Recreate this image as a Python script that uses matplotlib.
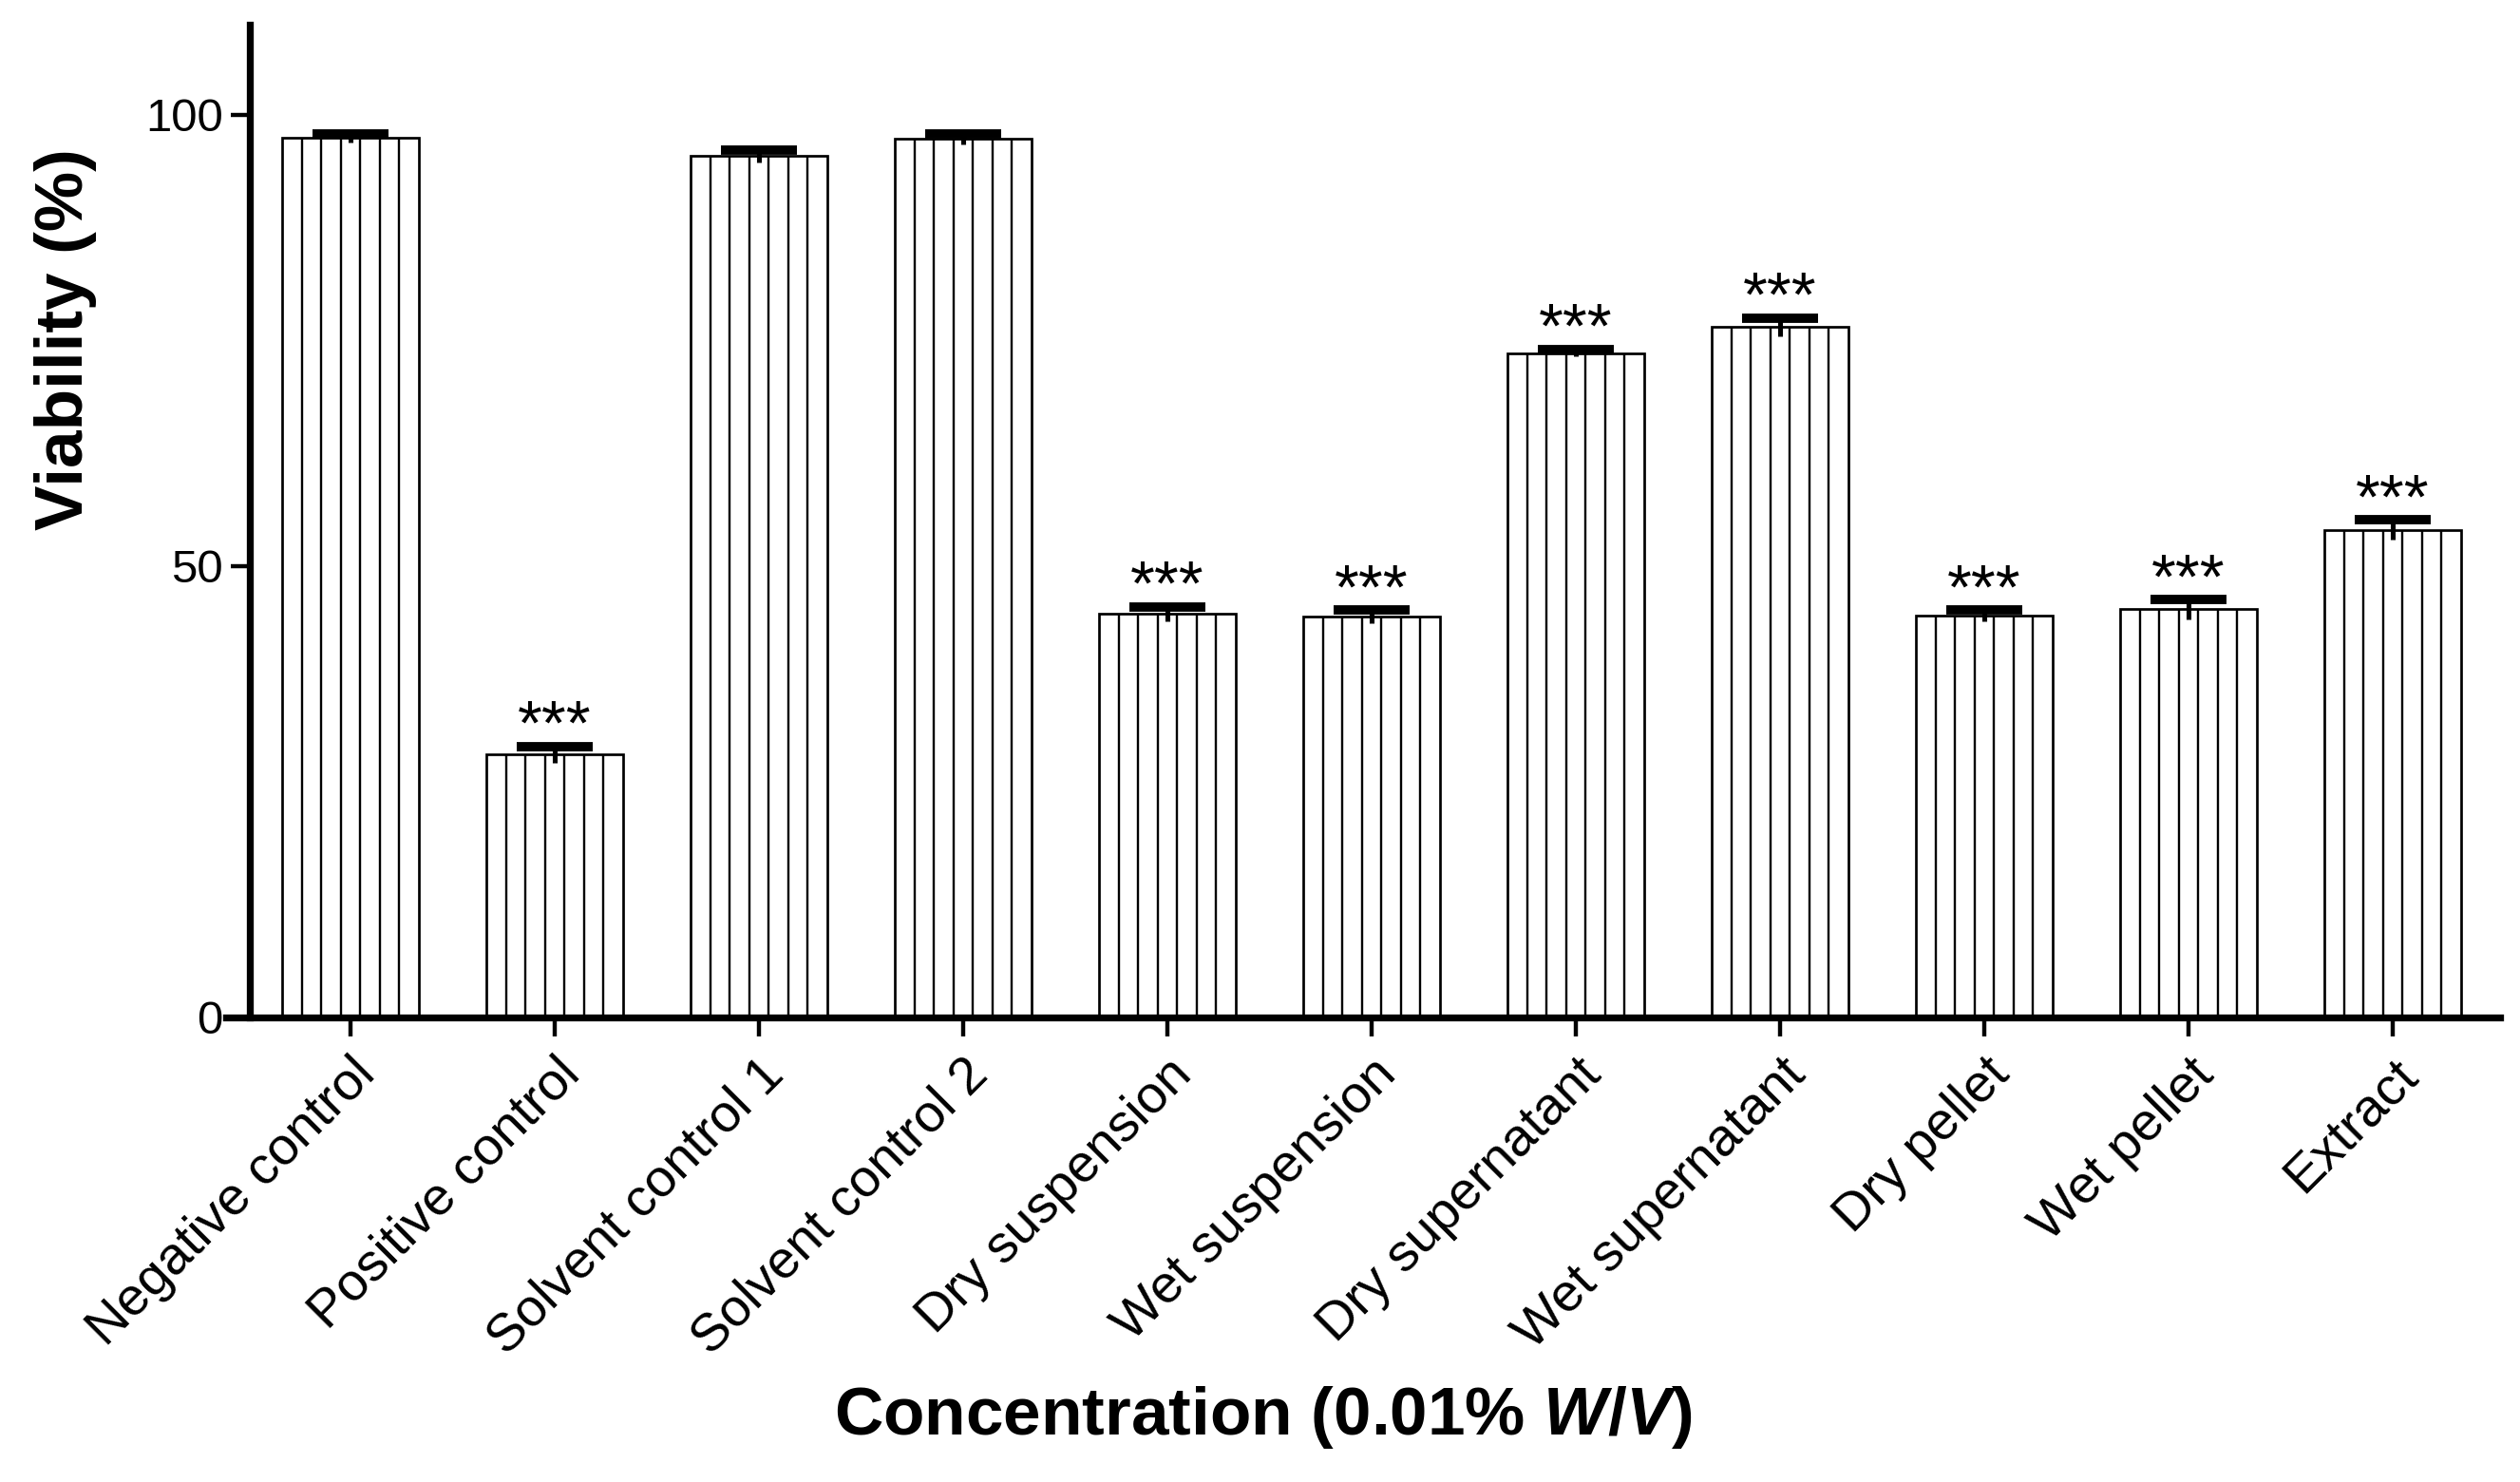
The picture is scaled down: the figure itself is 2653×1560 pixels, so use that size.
import matplotlib
matplotlib.use("Agg")
import matplotlib.pyplot as plt
import numpy as np

categories = ["Negative control", "Positive control", "Solvent control 1", "Solvent control 2",
              "Dry suspension", "Wet suspension", "Dry supernatant", "Wet supernatant",
              "Dry pellet", "Wet pellet", "Extract"]
viability = [97.4, 29.1, 95.4, 97.3, 44.7, 44.4, 73.6, 76.5, 44.5, 45.2, 54.0]
sem = [0.5, 0.9, 0.7, 0.6, 0.8, 0.7, 0.4, 1.0, 0.6, 1.1, 1.1]
significance = ["", "***", "", "", "***", "***", "***", "***", "***", "***", "***"]
yticks = [0, 50, 100]

plt.rcParams['font.family'] = ['Liberation Sans', 'DejaVu Sans']
plt.rcParams['mathtext.fontset'] = 'custom'
plt.rcParams['mathtext.it'] = 'Liberation Sans:bold:italic'
plt.rcParams['mathtext.rm'] = 'Liberation Sans:bold'

DPI = 122
fig = plt.figure(figsize=(2653 / DPI, 1560 / DPI), dpi=DPI)
ax = fig.add_axes([0.0897, 0.3135, 0.9921 - 0.0897, 0.9835 - 0.3135])

x = np.arange(len(categories))
bar_w = 0.667
n_stripes = 7
ax.bar(x, viability, width=bar_w, color='white', edgecolor='black',
       linewidth=1.6, zorder=2)
# vertical-line fill pattern inside each bar (GraphPad-style)
for xi, v in zip(x, viability):
    xs = xi - bar_w / 2 + bar_w * np.arange(1, n_stripes) / n_stripes
    ax.vlines(xs, 0, v, colors='black', linewidth=1.4, zorder=2.5)

eb = ax.errorbar(x, viability, yerr=[sem, sem], fmt='none', ecolor='black',
                 elinewidth=3.0, capsize=23.5, capthick=5.8, zorder=3)
# hide lower caps (only upper caps drawn, as in the original)
eb[1][0].set_visible(False)

for xi, v, e, s in zip(x, viability, sem, significance):
    if s:
        ax.text(xi, v + e + 0.2, s, ha='center', va='baseline', fontsize=39)

ax.set_xlim(-0.609, 10.526)
ax.set_ylim(0, 110)
ax.spines['left'].set_position(('data', -0.491))
ax.spines['top'].set_visible(False)
ax.spines['right'].set_visible(False)
ax.spines['left'].set_linewidth(4.3)
ax.spines['bottom'].set_linewidth(4.3)

ax.set_yticks(yticks)
ax.set_yticklabels([str(t) for t in yticks])
ax.set_xticks(x)
ax.set_xticklabels(categories, rotation=45, ha='right', rotation_mode='anchor')
ax.tick_params(axis='y', length=12, width=2.6, labelsize=29, pad=5)
ax.tick_params(axis='x', length=12, width=2.6, labelsize=33, pad=8)

ax.set_ylabel("Viability (%)", fontsize=42, fontweight='bold')
ax.yaxis.set_label_coords(-0.0568, 0.683)
ax.set_xlabel("Concentration (0.01% $\\mathit{W/V}$)", fontsize=42, fontweight='bold')
ax.xaxis.set_label_coords(0.456, -0.369)

fig.savefig("out.png", dpi=DPI, facecolor='white')
